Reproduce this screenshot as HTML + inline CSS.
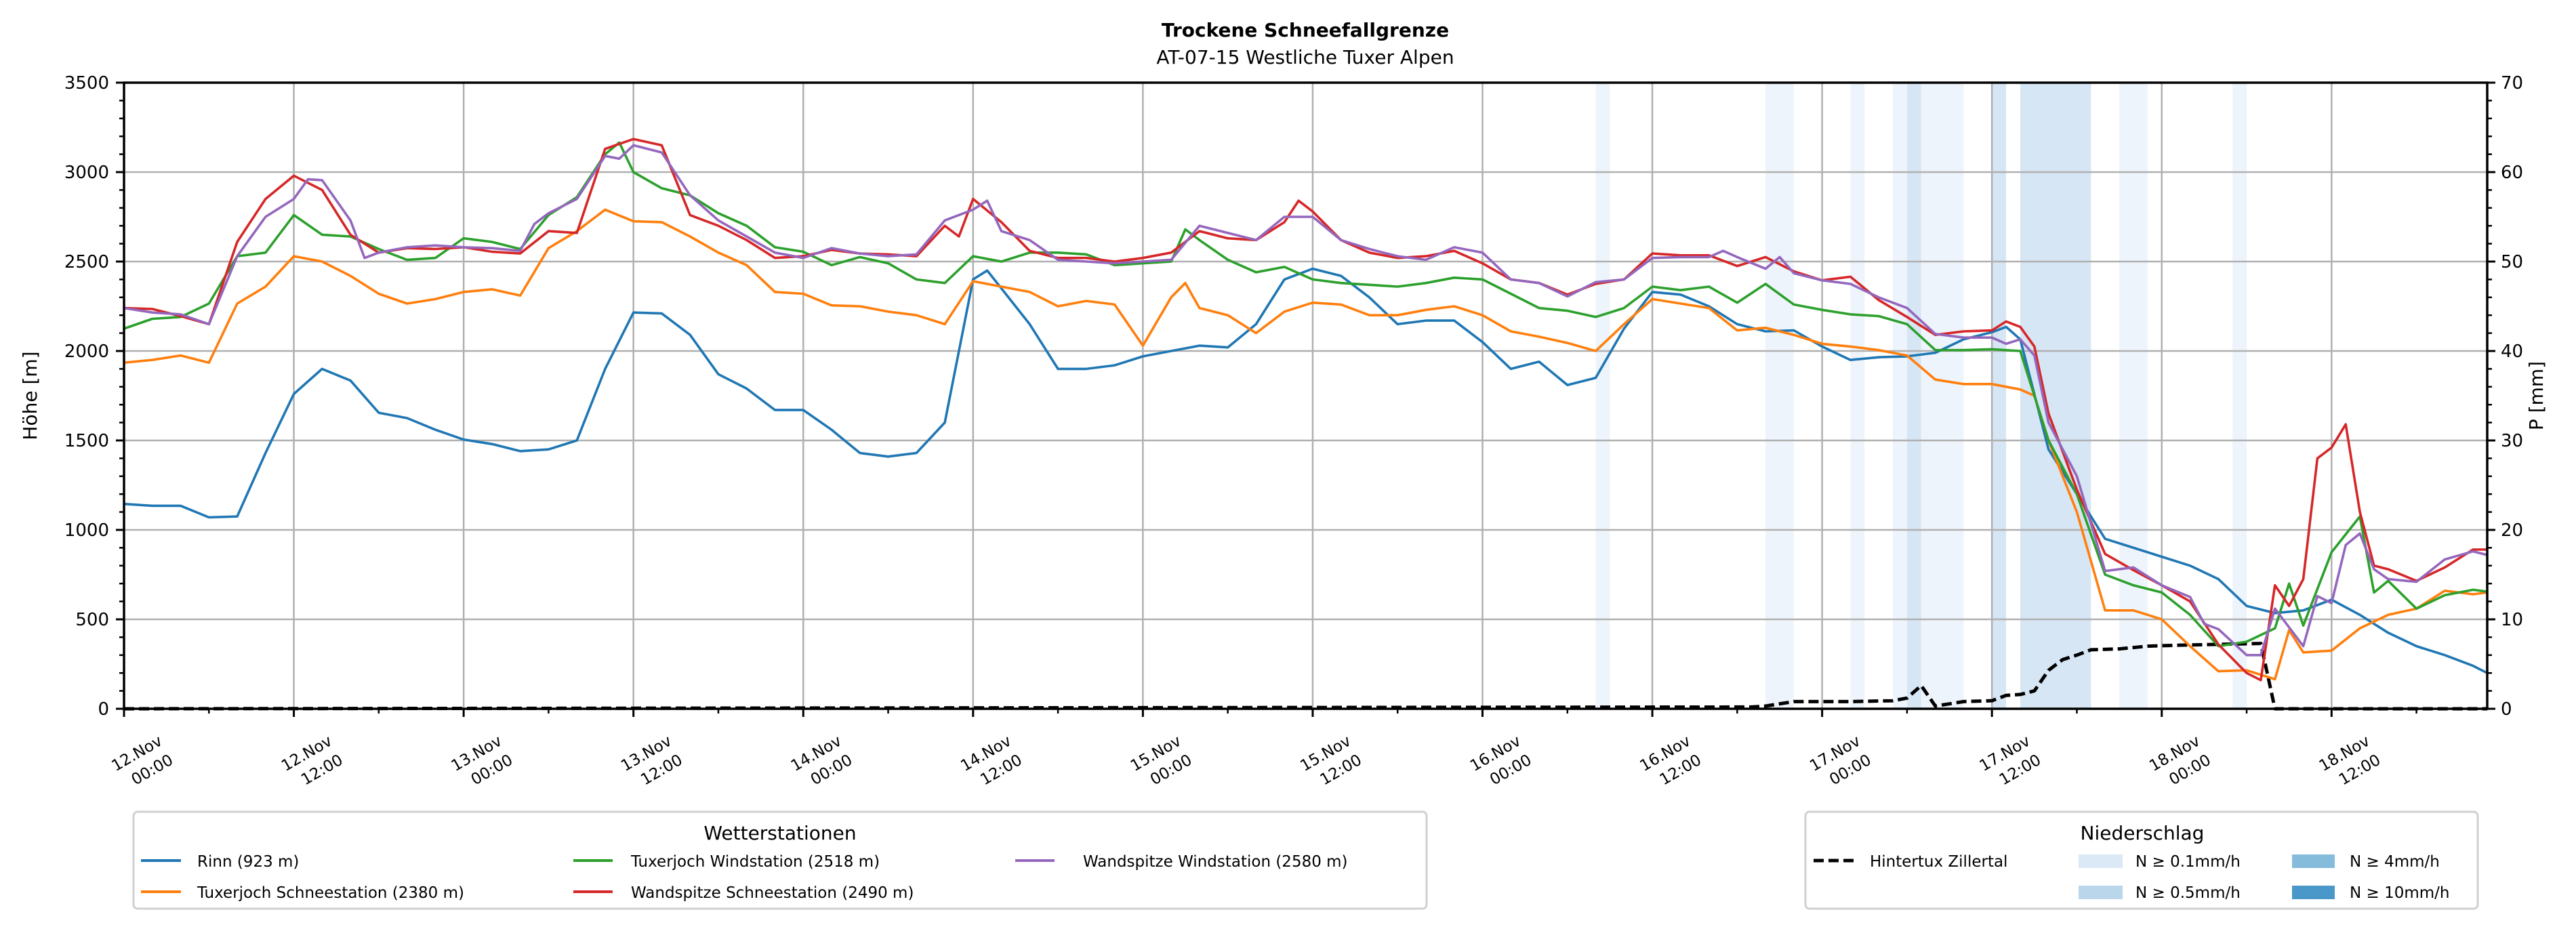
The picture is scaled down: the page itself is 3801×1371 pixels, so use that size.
<!DOCTYPE html>
<html><head><meta charset="utf-8">
<style>
html,body{margin:0;padding:0;background:#fff;}
svg{display:block;font-family:"DejaVu Sans","Liberation Sans",sans-serif;}
</style></head>
<body>
<svg id="chart" width="3801" height="1371" viewBox="0 0 3801 1371" xmlns="http://www.w3.org/2000/svg">
<text x="1926" y="54" font-size="28" font-weight="bold" text-anchor="middle">Trockene Schneefallgrenze</text>
<text x="1926" y="94" font-size="28" text-anchor="middle">AT-07-15 Westliche Tuxer Alpen</text>
<g id="bands"></g>
<g id="grid"></g>
<g id="series"></g>
<g id="axes"></g>
<text transform="translate(54,584) rotate(-90)" font-size="28" text-anchor="middle">Höhe [m]</text>
<text transform="translate(3752,584) rotate(-90)" font-size="28" text-anchor="middle">P [mm]</text>
<g>
<rect x="197" y="1198" width="1908" height="143" rx="6" fill="#fff" stroke="#d0d0d0" stroke-width="3"/>
<text x="1151" y="1239" font-size="28" text-anchor="middle">Wetterstationen</text>
<g><line x1="208" y1="1270" x2="267" y2="1270" stroke="#1f77b4" stroke-width="4"/><text x="291" y="1279" font-size="23">Rinn (923 m)</text></g>
<g><line x1="208" y1="1316" x2="267" y2="1316" stroke="#ff7f0e" stroke-width="4"/><text x="291" y="1325" font-size="23">Tuxerjoch Schneestation (2380 m)</text></g>
<g><line x1="846" y1="1270" x2="904" y2="1270" stroke="#2ca02c" stroke-width="4"/><text x="931" y="1279" font-size="23">Tuxerjoch Windstation (2518 m)</text></g>
<g><line x1="846" y1="1316" x2="904" y2="1316" stroke="#d62728" stroke-width="4"/><text x="931" y="1325" font-size="23">Wandspitze Schneestation (2490 m)</text></g>
<g><line x1="1498" y1="1270" x2="1556" y2="1270" stroke="#9467bd" stroke-width="4"/><text x="1598" y="1279" font-size="23">Wandspitze Windstation (2580 m)</text></g>
</g>
<g>
<rect x="2664" y="1198" width="992" height="143" rx="6" fill="#fff" stroke="#d0d0d0" stroke-width="3"/>
<text x="3161" y="1239" font-size="28" text-anchor="middle">Niederschlag</text>
<g><line x1="2676" y1="1270" x2="2735" y2="1270" stroke="#000" stroke-width="5" stroke-dasharray="15,7"/><text x="2759" y="1279" font-size="23">Hintertux Zillertal</text></g>
<g><rect x="3067" y="1261" width="65" height="20" fill="#dbe9f6"/><text x="3151" y="1279" font-size="23">N ≥ 0.1mm/h</text></g>
<g><rect x="3067" y="1307" width="65" height="20" fill="#bad6eb"/><text x="3151" y="1325" font-size="23">N ≥ 0.5mm/h</text></g>
<g><rect x="3382" y="1261" width="63" height="20" fill="#85bcdc"/><text x="3467" y="1279" font-size="23">N ≥ 4mm/h</text></g>
<g><rect x="3382" y="1307" width="63" height="20" fill="#4a98c9"/><text x="3467" y="1325" font-size="23">N ≥ 10mm/h</text></g>
</g>
</svg>
<script>
// ---- data (hours since 12.Nov 00:00) ----
const rinnHours=[0,2,4,6,8,10,12,14,16,18,20,22,24,26,28,30,32,34,36,38,40,42,44,46,48,50,52,54,56,58,60,61,62,64,66,68,70,72,74,76,78,80,82,84,86,88,90,92,94,96,98,100,102,104,106,108,110,112,114,116,118,120,122,124,126,128,130,132,133,134,136,138,140,142,144,146,148,150,152,154,156,158,160,162,164,166,167];
const rinnValues=[1145,1135,1135,1070,1075,1430,1760,1900,1835,1655,1625,1560,1505,1480,1440,1450,1500,1900,2215,2210,2090,1870,1790,1670,1670,1560,1430,1410,1430,1600,2400,2450,2350,2150,1900,1900,1920,1970,2000,2030,2020,2150,2400,2460,2420,2300,2150,2170,2170,2050,1900,1940,1810,1850,2125,2330,2315,2250,2150,2110,2115,2025,1950,1965,1970,1990,2065,2105,2135,2065,1450,1200,950,900,850,800,725,575,535,550,610,525,425,350,300,240,200];
const orangeHours=[0,2,4,6,8,10,12,14,16,18,20,22,24,26,28,30,32,34,36,38,40,42,44,46,48,50,52,54,56,58,60,62,64,66,68,70,72,74,75,76,78,80,82,84,86,88,90,92,94,96,98,100,102,104,106,108,110,112,114,116,118,120,122,124,126,128,130,132,134,135,136,138,140,142,144,146,148,150,152,153,154,156,158,160,162,164,166,167];
const orangeValues=[1935,1950,1975,1935,2265,2360,2530,2500,2420,2320,2265,2290,2330,2345,2310,2575,2670,2790,2725,2720,2640,2550,2480,2330,2320,2255,2250,2220,2200,2150,2390,2360,2330,2250,2280,2260,2030,2300,2380,2240,2200,2100,2220,2270,2260,2200,2200,2230,2250,2200,2110,2080,2045,2000,2150,2290,2265,2240,2115,2130,2090,2040,2025,2005,1975,1840,1815,1815,1785,1750,1500,1100,550,550,500,350,210,215,165,440,315,325,450,525,560,660,640,650];
const greenHours=[0,2,4,6,8,10,12,14,16,18,20,22,24,26,28,30,32,34,35,36,38,40,42,44,46,48,50,52,54,56,58,60,62,64,66,68,70,72,74,75,76,78,80,82,84,86,88,90,92,94,96,98,100,102,104,106,108,110,112,114,116,118,120,122,124,126,128,130,132,134,136,138,140,142,144,146,148,150,152,153,154,156,158,159,160,162,164,166,167];
const greenValues=[2125,2180,2190,2265,2530,2550,2760,2650,2640,2570,2510,2520,2630,2610,2570,2760,2860,3100,3165,3000,2910,2870,2770,2700,2580,2555,2480,2525,2490,2400,2380,2530,2500,2550,2550,2540,2480,2490,2500,2680,2620,2510,2440,2470,2400,2380,2370,2360,2380,2410,2400,2320,2240,2225,2190,2240,2360,2340,2360,2270,2375,2260,2230,2205,2195,2150,2005,2005,2010,2000,1500,1200,750,690,650,525,350,375,450,700,465,875,1075,650,715,560,635,665,655];
const redHours=[0,2,4,6,8,10,12,14,16,18,20,22,24,26,28,30,32,34,36,38,40,42,44,46,48,50,52,54,56,58,59,60,62,64,66,68,70,72,74,76,78,80,82,83,84,86,88,90,92,94,96,98,100,102,104,106,108,110,112,114,116,118,120,122,124,126,128,130,132,133,134,135,136,138,140,142,144,146,148,150,151,152,153,154,155,156,157,158,159,160,162,164,166,167];
const redValues=[2240,2235,2195,2150,2610,2850,2980,2900,2650,2550,2575,2570,2580,2555,2545,2670,2660,3130,3185,3150,2760,2700,2620,2520,2530,2565,2545,2540,2530,2700,2640,2850,2720,2560,2520,2520,2500,2520,2550,2670,2630,2620,2720,2840,2780,2620,2550,2520,2530,2560,2490,2400,2380,2315,2375,2400,2545,2535,2535,2475,2525,2445,2395,2415,2285,2190,2090,2110,2115,2165,2135,2025,1650,1225,865,775,690,600,360,200,160,690,575,725,1400,1460,1590,1100,800,780,715,790,890,890];
const purpleHours=[0,2,4,6,8,10,12,13,14,16,17,18,20,22,24,26,28,29,30,32,34,35,36,38,40,42,44,46,48,50,52,54,56,58,60,61,62,64,66,68,70,72,74,76,78,80,82,84,86,88,90,92,94,96,98,100,102,104,106,108,110,112,113,114,116,117,118,120,122,124,126,128,130,132,133,134,135,136,138,140,142,144,146,147,148,150,151,152,154,155,156,157,158,159,160,162,164,166,167];
const purpleValues=[2240,2215,2205,2150,2530,2750,2850,2960,2955,2730,2520,2550,2580,2590,2580,2575,2560,2710,2770,2850,3090,3075,3150,3110,2870,2730,2640,2550,2520,2575,2545,2530,2540,2730,2790,2840,2670,2620,2510,2500,2490,2500,2510,2700,2660,2620,2750,2750,2620,2570,2530,2510,2580,2550,2400,2380,2305,2385,2400,2520,2525,2525,2560,2525,2460,2525,2435,2395,2375,2300,2240,2095,2075,2075,2040,2065,1975,1600,1300,770,790,690,625,475,445,300,300,560,350,630,590,915,980,780,725,710,835,880,860];
const precipHours=[0,115,116,118,122,125,126,127,128,130,132,133,134,135,136,137,138,139,141,143,145,151,152,167];
const precipValues=[0,0.2,0.3,0.8,0.8,0.9,1.2,2.6,0.3,0.8,0.9,1.5,1.6,2.0,4.3,5.5,6.0,6.6,6.7,7.0,7.1,7.3,0,0];
const bandStart=[104,116,122,125,126,127,132,134,141,149];
const bandLevel=[1,1,1,1,2,1,2,2,1,1];
const bandLength=[1,2,1,1,1,3,1,5,2,1];
const xTickLabels=["12.Nov|00:00","12.Nov|12:00","13.Nov|00:00","13.Nov|12:00","14.Nov|00:00","14.Nov|12:00","15.Nov|00:00","15.Nov|12:00","16.Nov|00:00","16.Nov|12:00","17.Nov|00:00","17.Nov|12:00","18.Nov|00:00","18.Nov|12:00"];
const yTicks=[0,500,1000,1500,2000,2500,3000,3500];
const y2Ticks=[0,10,20,30,40,50,60,70];

// ---- axes ----
const L=183,R=3670,T=122,B=1046,HMAX=167;
const X=h=>L+(R-L)*h/HMAX;
const Y=m=>B-(B-T)*m/3500;
const Y2=p=>B-(B-T)*p/70;
const NS="http://www.w3.org/2000/svg";
function mk(tag,parent,attrs){const e=document.createElementNS(NS,tag);for(const k in attrs)e.setAttribute(k,attrs[k]);parent.appendChild(e);return e;}
const gB=document.getElementById('bands'),gG=document.getElementById('grid'),gS=document.getElementById('series'),gA=document.getElementById('axes');

bandStart.forEach((s,i)=>{
  const r=mk('rect',gB,{x:X(s),y:T,width:X(s+bandLength[i])-X(s),height:B-T,fill:bandLevel[i]==1?'#eef4fb':'#d6e6f4'});
  
  
});
yTicks.forEach(v=>{
  const y=Y(v);
  const g=mk('line',gG,{x1:L,x2:R,y1:y,y2:y,stroke:'#b0b0b0','stroke-width':2.5});
  
  
  mk('line',gA,{x1:L-12,x2:L,y1:y,y2:y,stroke:'#000','stroke-width':3});
  const t=mk('text',gA,{x:L-22,y:y+9,'font-size':26,'text-anchor':'end'});t.textContent=v;
  
  
});
for(let v=0;v<=3500;v+=100){mk('line',gA,{x1:L-7,x2:L,y1:Y(v),y2:Y(v),stroke:'#000','stroke-width':2.5});}
y2Ticks.forEach(v=>{
  const y=Y2(v);
  mk('line',gA,{x1:R,x2:R+12,y1:y,y2:y,stroke:'#000','stroke-width':3});
  const t=mk('text',gA,{x:R+20,y:y+9,'font-size':26});t.textContent=v;
  
  
});
for(let v=0;v<=70;v+=2){mk('line',gA,{x1:R,x2:R+7,y1:Y2(v),y2:Y2(v),stroke:'#000','stroke-width':2.5});}
xTickLabels.forEach((lab,i)=>{
  const h=i*12,x=X(h);
  const g=mk('line',gG,{x1:x,x2:x,y1:T,y2:B,stroke:'#b0b0b0','stroke-width':2.5});
  
  
  mk('line',gA,{x1:x,x2:x,y1:B,y2:B+12,stroke:'#000','stroke-width':3});
  const parts=lab.split('|');
  const t1=mk('text',gA,{transform:`translate(${x+58},${B+52}) rotate(-30)`,'font-size':23,'text-anchor':'end'});t1.textContent=parts[0];
  
  
  const t2=mk('text',gA,{transform:`translate(${x+74},${B+80}) rotate(-30)`,'font-size':23,'text-anchor':'end'});t2.textContent=parts[1];
  
  
});
for(let h=6;h<=HMAX;h+=12){mk('line',gA,{x1:X(h),x2:X(h),y1:B,y2:B+7,stroke:'#000','stroke-width':2.5});}
mk('rect',gA,{x:L,y:T,width:R-L,height:B-T,fill:'none',stroke:'#000','stroke-width':3.5});

function line(hours,vals,fy,color,name,dash){
  const d=hours.map((h,i)=>(i?'L':'M')+X(h).toFixed(1)+','+fy(vals[i]).toFixed(1)).join(' ');
  const p=mk('path',gS,{d:d,fill:'none',stroke:color,'stroke-width':dash?5:3.6,'stroke-linejoin':'round'});
  if(dash)p.setAttribute('stroke-dasharray',dash);
  
  
}
line(precipHours,precipValues,Y2,'#000','precip-line-hintertux','15,7');
line(rinnHours,rinnValues,Y,'#1f77b4','line-rinn');
line(orangeHours,orangeValues,Y,'#ff7f0e','line-tuxerjoch-schnee');
line(greenHours,greenValues,Y,'#2ca02c','line-tuxerjoch-wind');
line(redHours,redValues,Y,'#d62728','line-wandspitze-schnee');
line(purpleHours,purpleValues,Y,'#9467bd','line-wandspitze-wind');
</script>
</body></html>
